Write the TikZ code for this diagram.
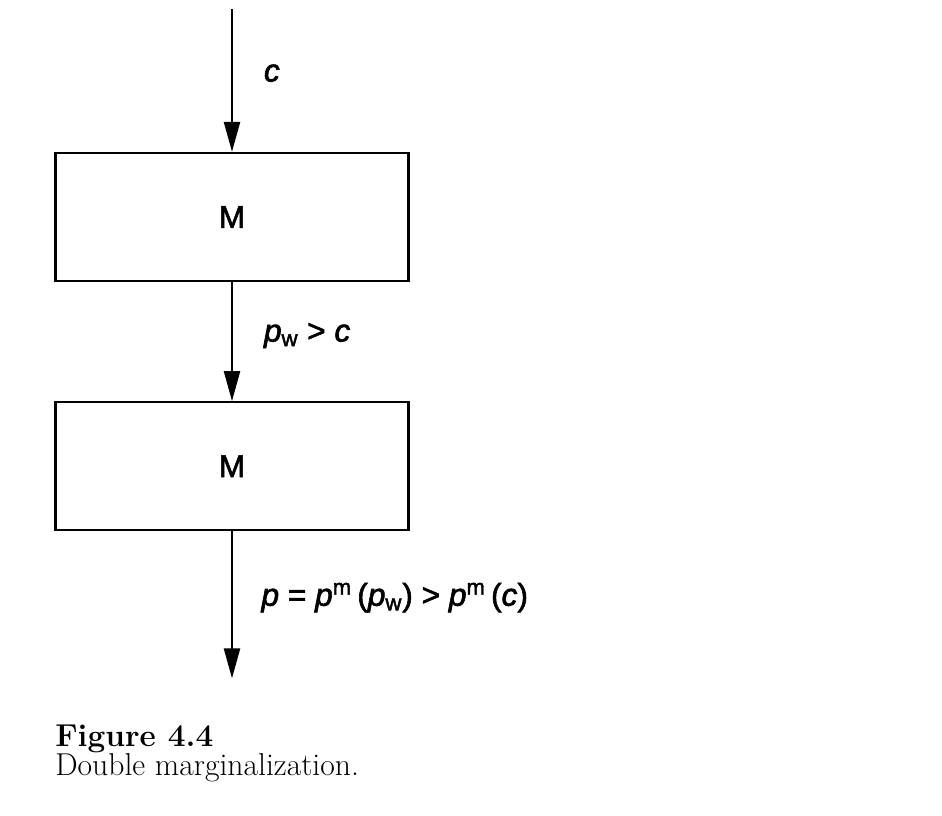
\documentclass[tikz,border=0pt]{standalone}
\usepackage{fontspec}
\setsansfont{Liberation Sans}[FakeBold=2]
\usetikzlibrary{positioning, arrows.meta}

\begin{document}
\begin{tikzpicture}[
	firm/.style={draw, line width=1.3pt, minimum width=7.06cm, minimum height=2.56cm, font=\sffamily\fontsize{18}{20}\selectfont},
	flow/.style={line width=1.3pt, -{Triangle[length=0.6cm, width=0.32cm]}},
	price/.style={anchor=west, font=\sffamily\fontsize{18}{21}\selectfont},
	node distance=2.38cm
	]
	\useasboundingbox (0, 0) rectangle (18.84, 16.32);

	% the two firms
	\node[firm] (upstream) at (4.64, 11.98) {M};
	\node[firm, below=of upstream] (downstream) {M};

	% ends of the chain
	\coordinate[above=2.86cm of upstream] (cost);
	\coordinate[below=2.94cm of downstream] (market);

	% prices passed down
	\draw[flow] (cost) -- (upstream) node[price, pos=0.45, right=0.5cm] {\textit{c}};
	\draw[flow] (upstream) -- (downstream) node[price, pos=0.45, right=0.5cm] {\textit{p}\textsubscript{w} > \textit{c}};
	\draw[flow] (downstream) -- (market) node[price, pos=0.45, right=0.45cm] {\textit{p} = \textit{p}\textsuperscript{m}\,(\textit{p}\textsubscript{w}) > \textit{p}\textsuperscript{m}\,(\textit{c})};

	% caption
	\node[anchor=base west, inner sep=0pt, font=\fontsize{18}{21}\selectfont] (fignum) at (1.1, 1.38) {\textbf{Figure 4.4}};
	\node[anchor=base west, inner sep=0pt, font=\fontsize{18}{21}\selectfont] (figtitle) at ([yshift=-0.58cm]fignum.base west) {Double marginalization.};
\end{tikzpicture}
\end{document}
